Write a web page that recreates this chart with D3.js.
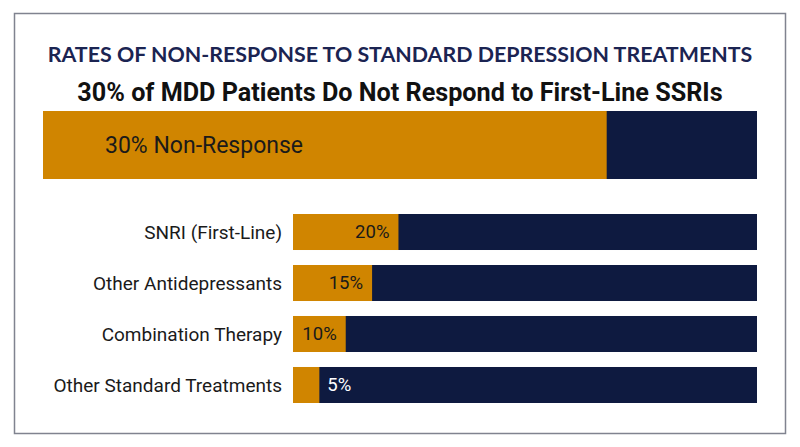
<!DOCTYPE html>
<html>
<head>
<meta charset="utf-8">
<script src="https://cdn.jsdelivr.net/npm/d3@7"></script>
<style>
  body { margin: 0; background: #fff; }
  svg { display: block; }
</style>
</head>
<body>
<script>
// chart data
var title = "RATES OF NON-RESPONSE TO STANDARD DEPRESSION TREATMENTS";
var subtitle = "30% of MDD Patients Do Not Respond to First-Line SSRIs";
var headlineValue = 30;
var headlineLabel = "30% Non-Response";
var treatments = ["SNRI (First-Line)", "Other Antidepressants", "Combination Therapy", "Other Standard Treatments"];
var nonResponse = [20, 15, 10, 5];

var w = 800, h = 447;
var orange = "#D08500", navy = "#0E1A40";

var svg = d3.select("body")
    .append("svg")
    .attr("width", w)
    .attr("height", h);

// outer frame
svg.append("rect")
    .attr("x", 14.5)
    .attr("y", 13.5)
    .attr("width", 771)
    .attr("height", 420)
    .attr("fill", "#fff")
    .attr("stroke", "#80838f")
    .attr("stroke-width", 1.5);

// titles
svg.append("text")
    .attr("x", 400)
    .attr("y", 62)
    .attr("text-anchor", "middle")
    .style("font-family", "Lato")
    .style("font-weight", "bold")
    .style("font-size", "21.4px")
    .style("fill", "#1B2452")
    .text(title);

svg.append("text")
    .attr("x", 400)
    .attr("y", 101)
    .attr("text-anchor", "middle")
    .style("font-family", "Roboto")
    .style("font-weight", "bold")
    .style("font-size", "25.2px")
    .style("fill", "#111")
    .text(subtitle);

// headline bar
var xTop = d3.scaleLinear()
    .domain([0, 38])
    .range([43, 757]);

svg.append("rect")
    .attr("x", xTop(0))
    .attr("y", 111)
    .attr("width", xTop.range()[1] - xTop(0))
    .attr("height", 68)
    .attr("fill", navy);

svg.append("rect")
    .attr("x", xTop(0))
    .attr("y", 111)
    .attr("width", xTop(headlineValue) - xTop(0))
    .attr("height", 68)
    .attr("fill", orange);

svg.append("text")
    .attr("x", xTop(0) + 62)
    .attr("y", 145)
    .attr("dy", "0.35em")
    .style("font-family", "Roboto")
    .style("font-size", "23px")
    .style("fill", "#1a1a1a")
    .text(headlineLabel);

// treatment bars
var x = d3.scaleLinear()
    .domain([0, 88])
    .range([293, 757]);

var y = d3.scaleBand()
    .domain(treatments)
    .range([214, 403])
    .paddingInner(0.294);

var rows = svg.selectAll(".row")
    .data(treatments.map(function(d, i){ return {name: d, value: nonResponse[i]}; }))
    .enter()
    .append("g")
    .attr("class", "row");

rows.append("rect")
    .attr("x", x(0))
    .attr("y", function(d){ return y(d.name); })
    .attr("width", x.range()[1] - x(0))
    .attr("height", y.bandwidth())
    .attr("fill", navy);

rows.append("rect")
    .attr("x", x(0))
    .attr("y", function(d){ return y(d.name); })
    .attr("width", function(d){ return x(d.value) - x(0); })
    .attr("height", y.bandwidth())
    .attr("fill", orange);

rows.append("text")
    .attr("x", x(0) - 11)
    .attr("y", function(d){ return y(d.name) + y.bandwidth() / 2; })
    .attr("dy", "0.35em")
    .attr("text-anchor", "end")
    .style("font-family", "Roboto")
    .style("font-size", "19px")
    .style("fill", "#1a1a1a")
    .text(function(d){ return d.name; });

//value labels sit inside the orange part when there is room, otherwise on the navy
rows.append("text")
    .attr("x", function(d){
        return (x(d.value) - x(0) > 40) ? x(d.value) - 9 : x(d.value) + 8;
    })
    .attr("y", function(d){ return y(d.name) + y.bandwidth() / 2; })
    .attr("dy", "0.35em")
    .attr("text-anchor", function(d){ return (x(d.value) - x(0) > 40) ? "end" : "start"; })
    .style("font-family", "Roboto")
    .style("font-size", "18.5px")
    .style("fill", function(d){ return (x(d.value) - x(0) > 40) ? "#1a1a1a" : "#fff"; })
    .text(function(d){ return d.value + "%"; });
</script>
</body>
</html>
